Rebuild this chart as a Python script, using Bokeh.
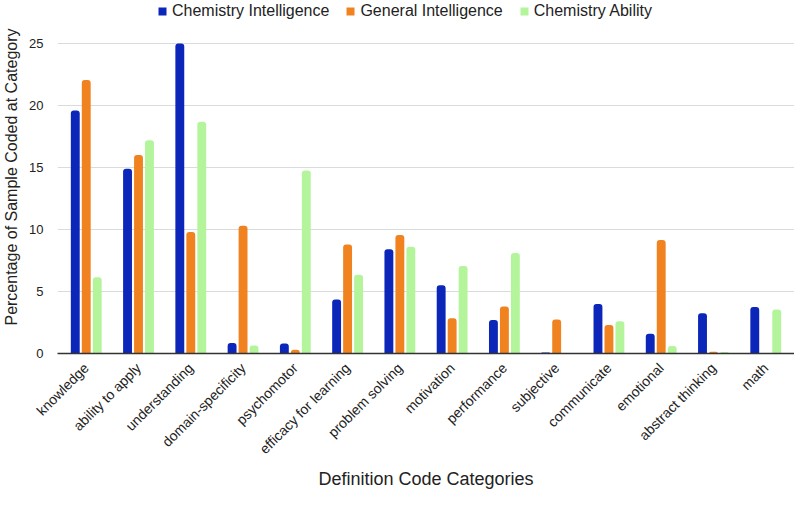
import math
from bokeh.plotting import figure
from bokeh.models import Range1d, FactorRange, Legend, LegendItem, ColumnDataSource, FixedTicker
from bokeh.transform import dodge
from bokeh.embed import file_html
from bokeh.resources import INLINE

categories = ["knowledge", "ability to apply", "understanding", "domain-specificity",
              "psychomotor", "efficacy for learning", "problem solving", "motivation",
              "performance", "subjective", "communicate", "emotional",
              "abstract thinking", "math"]
chem_int = [19.6, 14.9, 25.0, 0.85, 0.8, 4.35, 8.4, 5.5, 2.7, 0.08, 4.0, 1.6, 3.25, 3.75]
gen_int = [22.05, 16.0, 9.8, 10.3, 0.3, 8.8, 9.55, 2.85, 3.8, 2.75, 2.3, 9.15, 0.15, 0.0]
chem_ab = [6.15, 17.2, 18.7, 0.65, 14.75, 6.35, 8.6, 7.05, 8.1, 0.0, 2.6, 0.6, 0.13, 3.55]
series_names = ["Chemistry Intelligence", "General Intelligence", "Chemistry Ability"]
series_colors = ["#0b26b8", "#f0821f", "#b4f59c"]
y_ticks = [0, 5, 10, 15, 20, 25]

FONT = "Liberation Sans"

src = ColumnDataSource(dict(cat=categories, ci=chem_int, gi=gen_int, ca=chem_ab))

p = figure(width=794, height=492, output_backend="svg", toolbar_location=None,
           x_range=FactorRange(factors=categories, range_padding=0.05,
                               range_padding_units="absolute"),
           y_range=Range1d(0, 28.47),
           min_border_left=53, min_border_right=0, min_border_top=0,
           min_border_bottom=137)

renderers = []
for col, off, color in zip(["ci", "gi", "ca"], [-0.21, 0.0, 0.21], series_colors):
    r = p.vbar(x=dodge("cat", off, range=p.x_range), top=col, width=0.17, source=src,
               fill_color=color, line_color=None, border_radius=(3, 3, 0, 0))
    renderers.append(r)

legend = Legend(items=[LegendItem(label=n, renderers=[r]) for n, r in zip(series_names, renderers)],
                orientation="horizontal", location=(100, 333),
                border_line_color=None, background_fill_alpha=0,
                padding=0, margin=0, spacing=16,
                glyph_width=10, glyph_height=10, label_height=14, label_standoff=5,
                label_text_font=FONT, label_text_font_size="16px", label_text_color="#222222")
p.add_layout(legend, "center")

p.outline_line_color = None
p.xgrid.grid_line_color = None
p.ygrid.grid_line_color = "#d8dcdc"
p.ygrid.grid_line_width = 1.2

p.yaxis.ticker = FixedTicker(ticks=y_ticks)
p.yaxis.axis_line_color = None
p.yaxis.major_tick_line_color = None
p.yaxis.minor_tick_line_color = None
p.yaxis.major_label_standoff = 8
p.yaxis.major_label_text_font = FONT
p.yaxis.major_label_text_font_size = "13px"
p.yaxis.major_label_text_color = "#222222"
p.yaxis.axis_label = "Percentage of Sample Coded at Category"
p.yaxis.axis_label_text_font = FONT
p.yaxis.axis_label_text_font_size = "16px"
p.yaxis.axis_label_text_font_style = "normal"
p.yaxis.axis_label_text_color = "#222222"
p.yaxis.axis_label_standoff = 6

p.xaxis.axis_line_color = "#333333"
p.xaxis.axis_line_width = 1.5
p.xaxis.major_tick_line_color = None
p.xaxis.minor_tick_line_color = None
p.xaxis.major_label_orientation = math.pi / 4
p.xaxis.major_label_standoff = 6
p.xaxis.major_label_text_font = FONT
p.xaxis.major_label_text_font_size = "14px"
p.xaxis.major_label_text_color = "#222222"
p.xaxis.axis_label = "Definition Code Categories"
p.xaxis.axis_label_text_font = FONT
p.xaxis.axis_label_text_font_size = "18px"
p.xaxis.axis_label_text_font_style = "normal"
p.xaxis.axis_label_text_color = "#222222"
p.xaxis.axis_label_standoff = 4

open("out.html", "w").write(file_html(p, INLINE))
